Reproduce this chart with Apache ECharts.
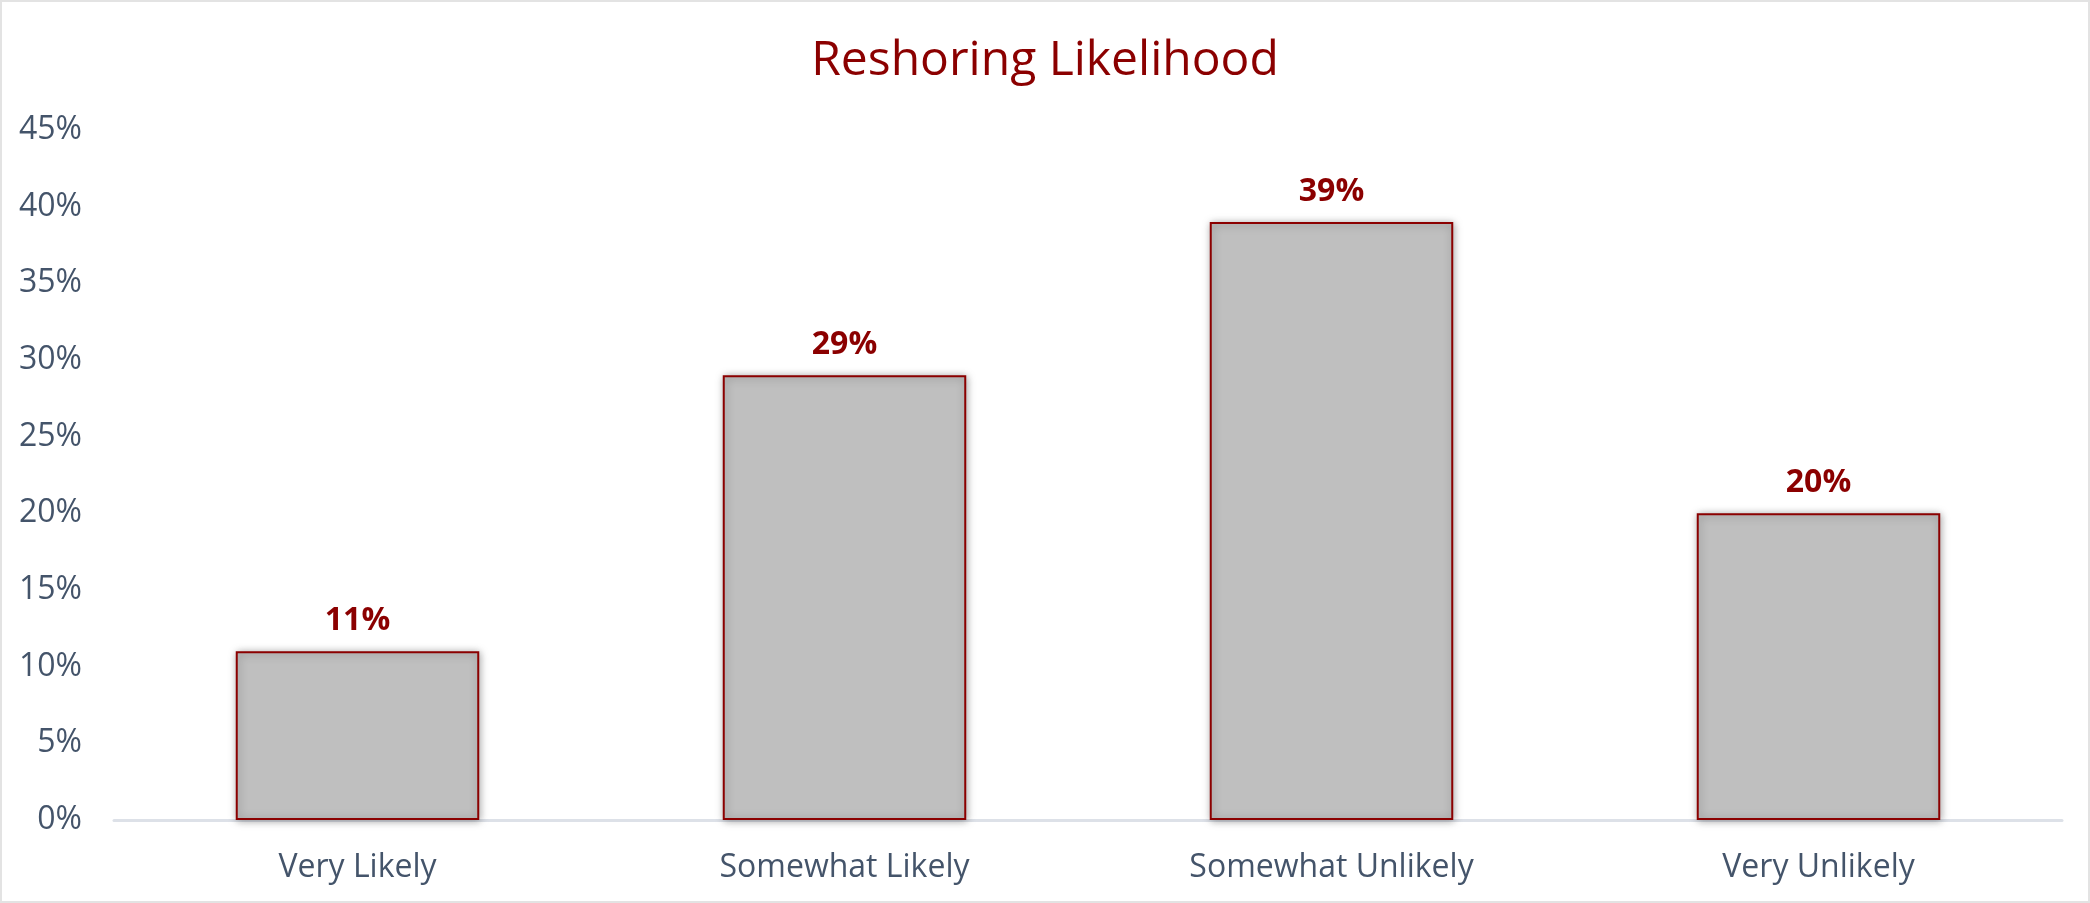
<!DOCTYPE html>
<html>
<head>
<meta charset="utf-8">
<script src="https://cdn.jsdelivr.net/npm/echarts@6/dist/echarts.min.js"></script>
<style>
  html, body { margin: 0; padding: 0; background: #ffffff; }
  #chart { width: 2090px; height: 903px; box-sizing: border-box; border: 2px solid #e3e3e3; }
</style>
</head>
<body>
<div id="chart"></div>
<script>
// Survey responses: share of respondents by reshoring likelihood
const categories = ['Very Likely', 'Somewhat Likely', 'Somewhat Unlikely', 'Very Unlikely'];
const shares = [11, 29, 39, 20];
const yTicks = [0, 5, 10, 15, 20, 25, 30, 35, 40, 45];

const chart = echarts.init(document.getElementById('chart'), null, { renderer: 'canvas' });

const font = '"Open Sans", "Noto Sans", sans-serif';
const labelColor = '#44546A';
const accent = '#8B0000';

chart.setOption({
  animation: false,
  title: {
    text: 'Reshoring Likelihood',
    left: 'center',
    top: 30,
    textStyle: { fontFamily: font, fontSize: 48, fontWeight: 'normal', color: accent }
  },
  grid: { left: 112, right: 26, top: 128, bottom: 81, containLabel: false },
  xAxis: {
    type: 'category',
    data: categories,
    axisLine: { show: true, lineStyle: { color: '#dde1e8', width: 3 } },
    axisTick: { show: false },
    axisLabel: { fontFamily: font, fontSize: 32, color: labelColor, margin: 32 }
  },
  yAxis: {
    type: 'value',
    min: yTicks[0],
    max: yTicks[yTicks.length - 1],
    interval: 5,
    splitLine: { show: false },
    axisLine: { show: false },
    axisTick: { show: false },
    axisLabel: {
      fontFamily: font, fontSize: 32, color: labelColor, margin: 32,
      formatter: v => v + '%'
    }
  },
  series: [{
    type: 'bar',
    data: shares,
    barWidth: '50%',
    itemStyle: {
      color: '#BFBFBF',
      borderColor: accent,
      borderWidth: 2,
      shadowColor: 'rgba(0,0,0,0.35)',
      shadowBlur: 8,
      shadowOffsetX: 1,
      shadowOffsetY: 1
    },
    label: {
      show: true,
      position: 'top',
      distance: 14,
      formatter: p => p.value + '%',
      fontFamily: font,
      fontSize: 32,
      fontWeight: 'bold',
      color: accent
    }
  }]
});
</script>
</body>
</html>
